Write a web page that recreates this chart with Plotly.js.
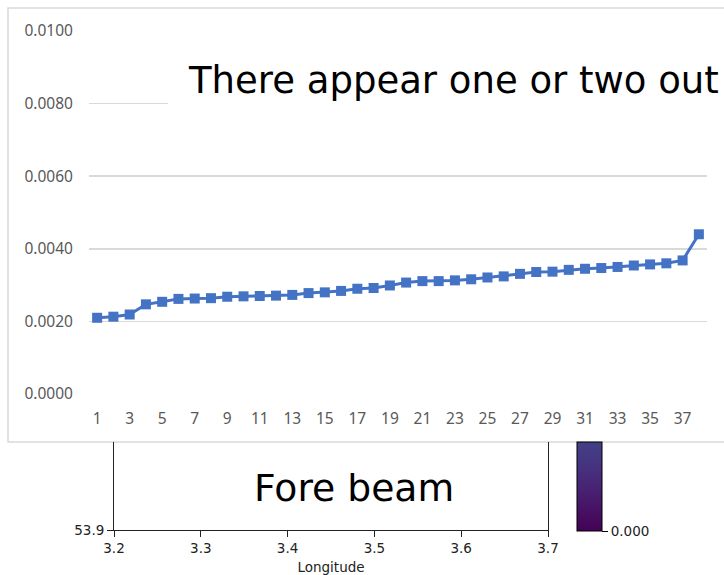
<!DOCTYPE html>
<html>
<head>
<meta charset="utf-8">
<script src="https://cdn.plot.ly/plotly-3.0.1.min.js"></script>
<style>html,body{margin:0;padding:0;background:#fff;}#chart{width:724px;height:575px;}</style>
</head>
<body>
<div id="chart"></div>
<script>
// Upper (Excel-style) line chart data
const categories = [1,2,3,4,5,6,7,8,9,10,11,12,13,14,15,16,17,18,19,20,21,22,23,24,25,26,27,28,29,30,31,32,33,34,35,36,37,38];
const values = [0.00210, 0.00213, 0.00219, 0.00247, 0.00254, 0.00262, 0.00263, 0.00264, 0.00268, 0.00269,
                0.00270, 0.00271, 0.00273, 0.00278, 0.00280, 0.00284, 0.00290, 0.00292, 0.00299, 0.00307,
                0.00311, 0.00311, 0.00313, 0.00316, 0.00321, 0.00324, 0.00331, 0.00336, 0.00337, 0.00342,
                0.00345, 0.00347, 0.00350, 0.00354, 0.00357, 0.00360, 0.00368, 0.00440];
const xTickVals = [1,3,5,7,9,11,13,15,17,19,21,23,25,27,29,31,33,35,37];
const yTickVals = [0, 0.002, 0.004, 0.006, 0.008, 0.010];
const yTickText = ["0.0000","0.0020","0.0040","0.0060","0.0080","0.0100"];

// Lower (map-style) chart ticks
const lonTicks = [3.2, 3.3, 3.4, 3.5, 3.6, 3.7];
const latTicks = [53.9];
const cbarTickVals = [0];
const cbarTickText = ["0.000"];

const overlayText = "There appear one or two out";
const lowerText = "Fore beam";

const W = 724, H = 575;
const px = v => v / W;
const py = v => 1 - v / H;

const traces = [
  {
    x: categories, y: values, type: 'scatter', mode: 'lines+markers',
    xaxis: 'x', yaxis: 'y',
    line: {color: '#4472C4', width: 3},
    marker: {symbol: 'square', size: 10, color: '#4472C4'},
    hoverinfo: 'skip', showlegend: false
  },
  {
    x: [3.0, 3.0], y: [53.0, 53.0], type: 'scatter', mode: 'markers',
    xaxis: 'x2', yaxis: 'y2',
    marker: {
      color: [0, 1], cmin: 0, cmax: 1, size: 1,
      colorscale: [[0, '#440154'], [0.25, '#471365'], [0.5, '#482475'], [0.75, '#463480'], [1, '#424086']],
      showscale: true,
      colorbar: {
        x: px(577), xanchor: 'left', xpad: 0,
        y: py(531), yanchor: 'bottom', ypad: 0,
        len: 89, lenmode: 'pixels',
        thickness: 25, thicknessmode: 'pixels',
        outlinecolor: '#000', outlinewidth: 1, borderwidth: 0,
        tickmode: 'array', tickvals: cbarTickVals, ticktext: cbarTickText,
        ticks: 'outside', ticklen: 6, tickcolor: '#000',
        tickfont: {family: 'DejaVu Sans', size: 13.5, color: '#222'}
      }
    },
    hoverinfo: 'skip', showlegend: false
  }
];

const layout = {
  width: W, height: H,
  margin: {l: 0, r: 0, t: 0, b: 0, pad: 0},
  paper_bgcolor: '#ffffff', plot_bgcolor: 'rgba(0,0,0,0)',
  showlegend: false,
  xaxis: {
    domain: [px(89), px(707)], range: [0.5, 38.5],
    tickmode: 'array', tickvals: xTickVals, ticktext: xTickVals.map(String),
    showgrid: false, zeroline: false, showline: false,
    ticks: 'outside', ticklen: 10, tickcolor: 'rgba(0,0,0,0)',
    tickfont: {family: 'Noto Sans', size: 15.5, color: '#595959'},
    anchor: 'y', fixedrange: true
  },
  yaxis: {
    domain: [py(394), py(31)], range: [0, 0.010],
    tickmode: 'array', tickvals: yTickVals, ticktext: yTickText,
    showgrid: true, gridcolor: '#d9d9d9', gridwidth: 1.5,
    zeroline: false, showline: false,
    ticks: 'outside', ticklen: 12, tickcolor: 'rgba(0,0,0,0)',
    tickfont: {family: 'Noto Sans', size: 15.5, color: '#595959'},
    anchor: 'x', fixedrange: true
  },
  xaxis2: {
    domain: [px(114), px(548)], range: [3.2, 3.7],
    tickmode: 'array', tickvals: lonTicks, ticktext: lonTicks.map(v => v.toFixed(1)),
    showgrid: false, zeroline: false,
    showline: true, linecolor: '#222', linewidth: 1,
    ticks: 'outside', ticklen: 6, tickcolor: '#222', tickwidth: 1,
    tickfont: {family: 'DejaVu Sans', size: 13.5, color: '#222'},
    title: {text: 'Longitude', font: {family: 'DejaVu Sans', size: 13.5, color: '#222'}, standoff: 10},
    anchor: 'y2', fixedrange: true
  },
  yaxis2: {
    domain: [py(530), py(442)], range: [53.9, 54.0],
    tickmode: 'array', tickvals: latTicks, ticktext: latTicks.map(v => v.toFixed(1)),
    showgrid: false, zeroline: false,
    showline: true, linecolor: '#222', linewidth: 1, mirror: true,
    ticks: 'outside', ticklen: 6, tickcolor: '#222', tickwidth: 1,
    tickfont: {family: 'DejaVu Sans', size: 13.5, color: '#222'},
    anchor: 'x2', fixedrange: true
  },
  shapes: [
    {type: 'rect', xref: 'paper', yref: 'paper', layer: 'below',
     x0: px(8), x1: 1.05, y0: py(442), y1: py(8),
     line: {color: '#d9d9d9', width: 1.5}, fillcolor: '#ffffff'},
    {type: 'rect', xref: 'paper', yref: 'paper', layer: 'above',
     x0: px(168), x1: 1.05, y0: py(130), y1: py(45),
     line: {width: 0}, fillcolor: '#ffffff'}
  ],
  annotations: [
    {text: overlayText, xref: 'paper', yref: 'paper', x: px(186), y: py(81),
     xanchor: 'left', yanchor: 'middle', showarrow: false,
     font: {family: 'DejaVu Sans', size: 37, color: '#000'}},
    {text: lowerText, xref: 'paper', yref: 'paper', x: px(354), y: py(488),
     xanchor: 'center', yanchor: 'middle', showarrow: false,
     font: {family: 'DejaVu Sans', size: 37.7, color: '#000'}}
  ]
};

Plotly.newPlot('chart', traces, layout, {staticPlot: true, displayModeBar: false});
</script>
</body>
</html>
